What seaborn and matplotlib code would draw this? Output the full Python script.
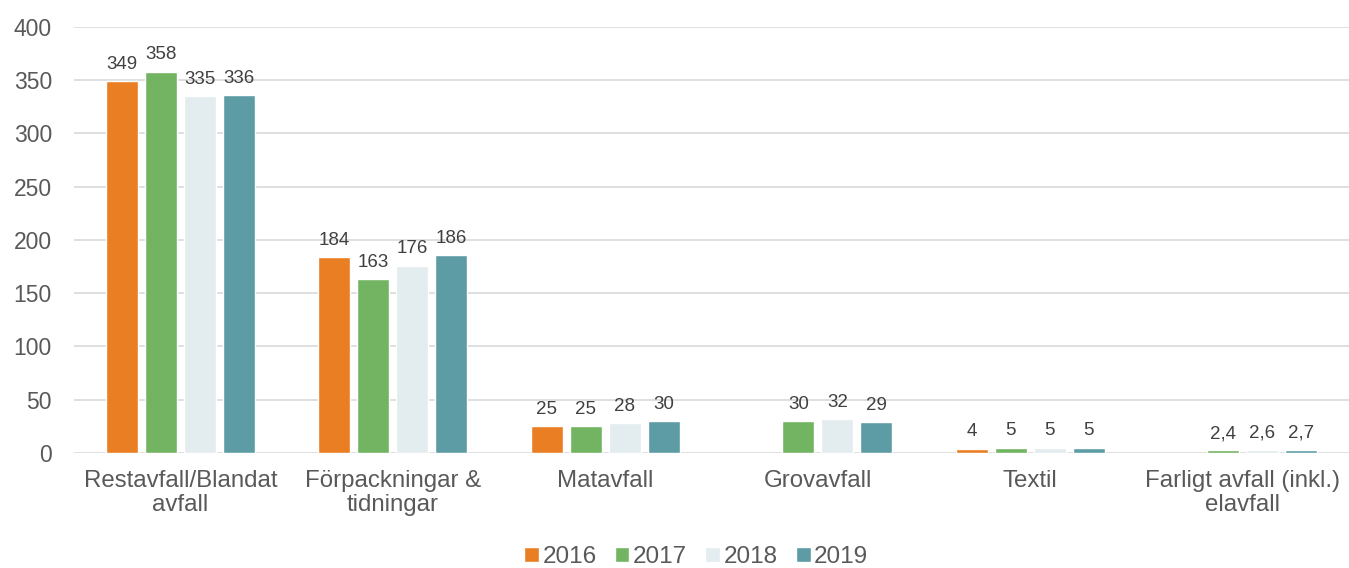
import numpy as np
import pandas as pd
import seaborn as sns
import matplotlib.pyplot as plt

categories = ["Restavfall/Blandat\navfall", "Förpackningar &\ntidningar", "Matavfall",
              "Grovavfall", "Textil", "Farligt avfall (inkl.)\nelavfall"]
years = ["2016", "2017", "2018", "2019"]
v2016 = [349, 184, 25, np.nan, 4, np.nan]
v2017 = [358, 163, 25, 30, 5, 2.4]
v2018 = [335, 176, 28, 32, 5, 2.6]
v2019 = [336, 186, 30, 29, 5, 2.7]
colors = ["#E97E23", "#72B462", "#E3ECEE", "#5E9CA5"]

rows = []
for yr, vals in zip(years, [v2016, v2017, v2018, v2019]):
    for c, v in zip(categories, vals):
        rows.append({"kategori": c, "år": yr, "värde": v})
df = pd.DataFrame(rows)

sns.set_theme(style="white")
plt.rcParams['font.family'] = ['Liberation Sans', 'DejaVu Sans']
txt = "#595959"

fig = plt.figure(figsize=(13.49, 5.68), dpi=100)
ax = fig.add_axes([0.055, 0.2025, 0.945, 0.75])

sns.barplot(data=df, x="kategori", y="värde", hue="år", order=categories,
            hue_order=years, palette=colors, width=0.735, gap=0.18,
            saturation=1, ax=ax, legend=True)

def fmt(v):
    if v != int(v):
        return f"{v:.1f}".replace(".", ",")
    return f"{int(v)}"

for cont in ax.containers:
    ax.bar_label(cont, fmt=fmt, padding=6, fontsize=13.5, color="#404040")

ax.set_ylim(0, 400)
ax.set_yticks(range(0, 401, 50))
ax.yaxis.grid(True, color="#D9D9D9", linewidth=1.2)
ax.set_axisbelow(True)
for s in ax.spines.values():
    s.set_visible(False)
ax.tick_params(axis="y", length=0, labelsize=16.5, colors=txt, pad=16)
ax.tick_params(axis="x", length=0, labelsize=17.3, colors=txt, pad=12)
for t in ax.get_xticklabels():
    t.set_linespacing(1.12)
ax.set_xlabel("")
ax.set_ylabel("")
ax.set_xlim(-0.5, 5.5)

handles, labels = ax.get_legend_handles_labels()
ax.legend(handles, labels, loc="center", bbox_to_anchor=(0.488, -0.245), ncol=4,
          frameon=False, fontsize=17.5, handlelength=0.6, handleheight=0.6,
          handletextpad=0.15, columnspacing=0.75, labelcolor=txt)

fig.savefig("out.png", dpi=100)
